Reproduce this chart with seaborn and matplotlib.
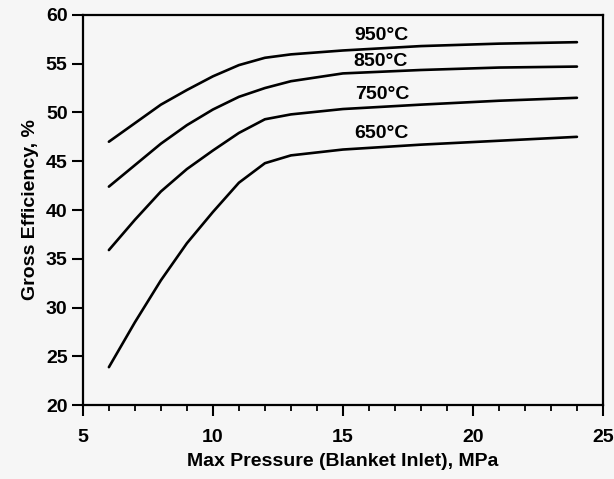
import numpy as np
import pandas as pd
import matplotlib
matplotlib.use("Agg")
import matplotlib.pyplot as plt
import seaborn as sns
from matplotlib.ticker import MultipleLocator

# Datos
presion = [6, 7, 8, 9, 10, 11, 12, 13, 15, 18, 21, 24]
ef_950 = [47.0, 48.9, 50.8, 52.3, 53.7, 54.85, 55.6, 55.95, 56.35, 56.8, 57.05, 57.2]
ef_850 = [42.4, 44.6, 46.8, 48.7, 50.3, 51.6, 52.5, 53.2, 54.0, 54.35, 54.6, 54.7]
ef_750 = [35.9, 39.0, 41.9, 44.2, 46.1, 47.9, 49.3, 49.8, 50.35, 50.8, 51.2, 51.5]
ef_650 = [23.9, 28.5, 32.8, 36.6, 39.8, 42.8, 44.8, 45.6, 46.2, 46.7, 47.1, 47.5]
etiquetas = ["950°C", "850°C", "750°C", "650°C"]
etiqueta_x = [16.5, 16.45, 16.5, 16.5]
etiqueta_y = [57.85, 55.2, 51.8, 47.8]

series = [ef_950, ef_850, ef_750, ef_650]
df = pd.concat([pd.DataFrame({"Presion": presion, "Eficiencia": s, "Temp": t})
                for s, t in zip(series, etiquetas)])

sns.set_style("ticks")
plt.rcParams["font.family"] = ["Liberation Sans Narrow", "Liberation Sans", "DejaVu Sans"]
plt.rcParams["font.weight"] = "bold"
plt.rcParams["text.color"] = "black"
plt.rcParams["axes.labelcolor"] = "black"

fondo = "#f6f6f6"
fig = plt.figure(figsize=(6.14, 4.79), dpi=100, facecolor=fondo)
ax = fig.add_axes([0.135, 0.154, 0.847, 0.815])
ax.set_facecolor(fondo)

sns.lineplot(data=df, x="Presion", y="Eficiencia", units="Temp", estimator=None,
             color="black", linewidth=1.9, ax=ax, legend=False)

for txt, tx, ty in zip(etiquetas, etiqueta_x, etiqueta_y):
    ax.text(tx, ty, txt, ha="center", va="center", fontsize=14, fontweight="bold", color="black")

ax.set_xlim(5, 25)
ax.set_ylim(20, 60)
ax.xaxis.set_major_locator(MultipleLocator(5))
ax.xaxis.set_minor_locator(MultipleLocator(1))
ax.yaxis.set_major_locator(MultipleLocator(5))
ax.tick_params(axis="both", which="major", length=8, width=1.5, labelsize=14,
               colors="black", pad=3)
ax.tick_params(axis="x", which="major", pad=9)
ax.tick_params(axis="x", which="minor", length=4.5, width=1.3, colors="black")
for lbl in ax.get_xticklabels() + ax.get_yticklabels():
    lbl.set_fontweight("bold")
for sp in ax.spines.values():
    sp.set_linewidth(1.6)
    sp.set_color("black")

ax.set_xlabel("Max Pressure (Blanket Inlet), MPa", fontsize=14, fontweight="bold", labelpad=5)
ax.set_ylabel("Gross Efficiency, %", fontsize=14, fontweight="bold", labelpad=5)

fig.savefig("out.png", dpi=100, facecolor=fondo)
